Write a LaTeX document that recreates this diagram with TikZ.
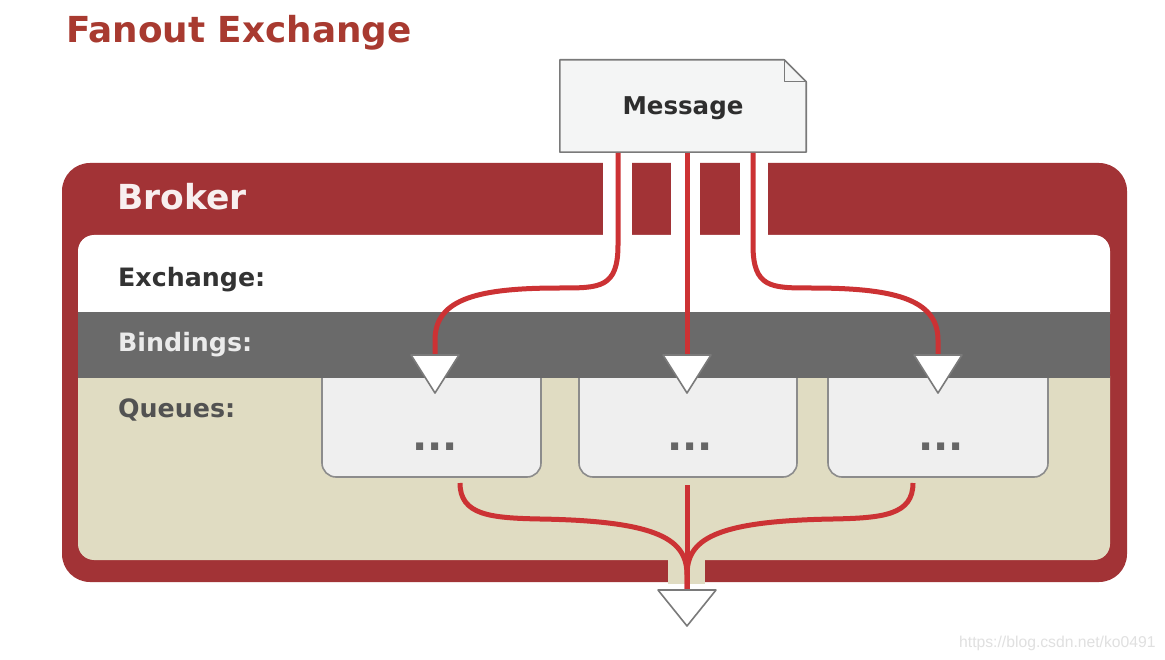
\documentclass[tikz,border=0pt]{standalone}
\usepackage{fontspec}
\setmainfont{DejaVu Sans}
\newfontfamily\wmfont{Liberation Sans}
\definecolor{brokerred}{HTML}{A23336}
\definecolor{linered}{HTML}{CC3234}
\definecolor{titlered}{HTML}{A83A30}
\definecolor{bandgrey}{HTML}{6A6A6A}
\definecolor{beige}{HTML}{E0DCC2}
\definecolor{qfill}{HTML}{EFEFEF}
\definecolor{qborder}{HTML}{8C8C8C}
\definecolor{msgfill}{HTML}{F4F5F5}
\definecolor{msgborder}{HTML}{7A7A7A}
\tikzset{
  flow/.style={draw=linered,line width=5pt},
  tri/.style={fill=white,draw=msgborder,line width=1.6pt,line join=round},
  qbox/.style={draw=qborder,line width=1.6pt},
  lbl/.style={anchor=base west,inner sep=0pt,font=\bfseries\fontsize{25.3}{30}\selectfont},
  dots/.style={anchor=base,inner sep=0pt,text=black!60,font=\bfseries\fontsize{40}{40}\selectfont}
}
\begin{document}
\begin{tikzpicture}[x=1pt,y=-1pt]
\useasboundingbox[fill=white] (0,0) rectangle (1165,660);
% title
\node[anchor=base west,inner sep=0pt,text=titlered,font=\bfseries\fontsize{35.8}{40}\selectfont] (title) at (66,43) {Fanout Exchange};
% broker frame
\fill[brokerred,rounded corners=28] (62,163) rectangle (1127,582);
\fill[white,rounded corners=16] (78,235) rectangle (1110,330);
\fill[beige,rounded corners=16] (78,360) rectangle (1110,560);
\fill[bandgrey] (78,312) rectangle (1110,378);
% gaps in frame
\fill[white] (603,158) rectangle (632,240);
\fill[white] (671,158) rectangle (700,240);
\fill[white] (740,158) rectangle (768,240);
\fill[beige] (668,550) rectangle (705,584);
\node[anchor=base west,inner sep=0pt,text=white!92!brokerred,font=\bfseries\fontsize{34.5}{38}\selectfont] (broker) at (117,210) {Broker};
\node[lbl,text=black!80] (lex) at (118,287) {Exchange:};
\node[lbl,text=white!92!black] (lbind) at (118,352) {Bindings:};
\node[lbl,text=black!68] (lq) at (118,417) {Queues:};
% queue boxes
\foreach \n/\l/\r in {1/322/541,2/579/797,3/828/1048}{
  \fill[qfill] (\l,378) [rounded corners=14] -- (\l,477) -- (\r,477) [sharp corners] -- (\r,378) -- cycle;
  \draw[qbox] (\l,378) [rounded corners=14] -- (\l,477) -- (\r,477) [sharp corners] -- (\r,378);
}
\node[dots] (q1) at (435,450) {...};
\node[dots] (q2) at (690,450) {...};
\node[dots] (q3) at (941,450) {...};
% message
\node[minimum width=246pt,minimum height=92pt,inner sep=0pt] (msg) at (683,106) {};
\draw[fill=msgfill,draw=msgborder,line width=1.6pt,line join=round]
  (msg.north west) -- ([xshift=-22pt]msg.north east) -- ([yshift=-22pt]msg.north east) -- (msg.south east) -- (msg.south west) -- cycle;
\draw[msgborder,line width=1.2pt,line join=round] ([xshift=-22pt]msg.north east) -- ([xshift=-22pt,yshift=-22pt]msg.north east) -- ([yshift=-22pt]msg.north east);
\node[anchor=base,inner sep=0pt,text=black!82,font=\bfseries\fontsize{24.5}{28}\selectfont] (msgtext) at (683,115) {Message};
% connection points
\coordinate (m1) at (618,153);
\coordinate (m2) at (687,153);
\coordinate (m3) at (753,153);
\coordinate (t1) at (435,355);
\coordinate (t2) at (687,355);
\coordinate (t3) at (938,355);
\coordinate (b1) at (460,483);
\coordinate (b2) at (687,485);
\coordinate (b3) at (913,483);
\coordinate (out) at (687,590);
% flows
\draw[flow] (m1) -- (618,245) .. controls (618,288) and (600,288) .. (560,288)
  .. controls (480,288) and (435,298) .. (435,340) -- (t1);
\draw[flow] (m2) -- (t2);
\draw[flow] (m3) -- (753,245) .. controls (753,288) and (771,288) .. (811,288)
  .. controls (891,288) and (938,298) .. (938,340) -- (t3);
\draw[flow] (b1) .. controls (460,515) and (490,518) .. (540,519)
  .. controls (660,521) and (687,540) .. (687,575) -- (out);
\draw[flow] (b3) .. controls (913,515) and (883,518) .. (833,519)
  .. controls (713,521) and (687,540) .. (687,575) -- (out);
\draw[flow] (b2) -- (out);
% triangles
\foreach \t in {t1,t2,t3}{
  \draw[tri] (\t) ++(-24,0) -- ++(48,0) -- ++(-24,38) -- cycle;
}
\draw[tri] (out) ++(-29,0) -- ++(58,0) -- ++(-29,36) -- cycle;
% watermark
\node[anchor=base west,inner sep=0pt,text=black!12,font=\wmfont\fontsize{15.7}{18}\selectfont] (wm) at (959,647) {https://blog.csdn.net/ko0491};
\end{tikzpicture}
\end{document}
